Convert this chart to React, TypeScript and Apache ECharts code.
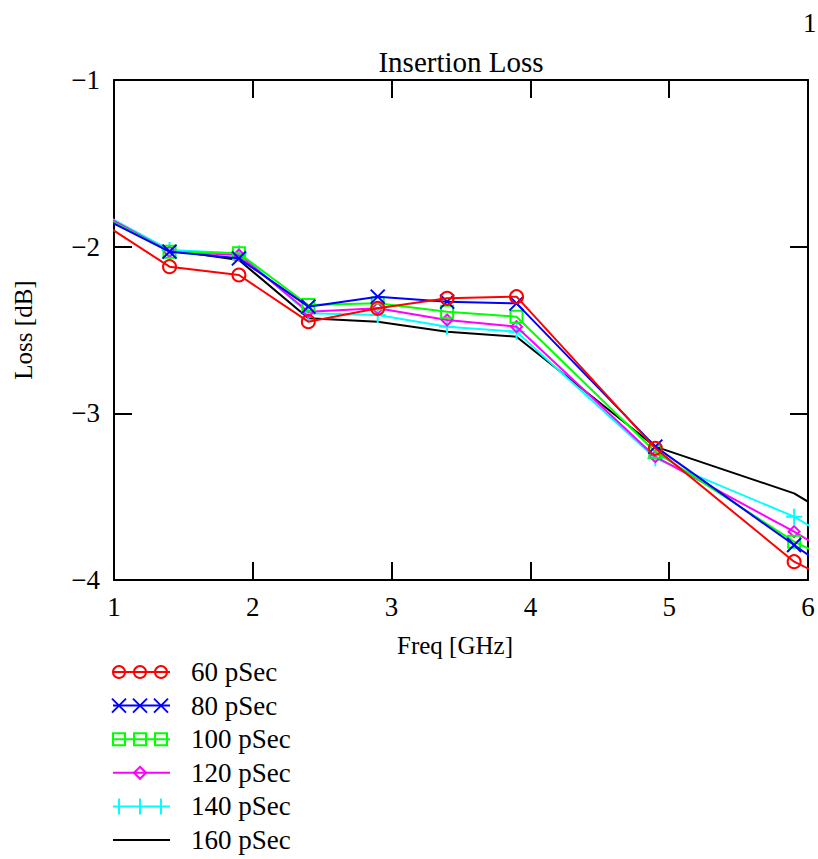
import React, { useEffect, useRef } from "react";
import * as echarts from "echarts";

const freq = [0.9, 1.4, 1.9, 2.4, 2.9, 3.4, 3.9, 4.9, 5.9, 6.9];
const seriesNames = ["60 pSec", "80 pSec", "100 pSec", "120 pSec", "140 pSec", "160 pSec"];
const loss60 = [-1.85, -2.12, -2.17, -2.45, -2.37, -2.31, -2.3, -3.21, -3.89, -4.3];
const loss80 = [-1.82, -2.03, -2.07, -2.36, -2.3, -2.33, -2.34, -3.2, -3.79, -4.38];
const loss100 = [-1.81, -2.03, -2.04, -2.35, -2.34, -2.39, -2.42, -3.23, -3.77, -4.17];
const loss120 = [-1.8, -2.03, -2.05, -2.39, -2.37, -2.44, -2.48, -3.26, -3.71, -4.21];
const loss140 = [-1.795, -2.02, -2.04, -2.4, -2.41, -2.48, -2.51, -3.27, -3.62, -4.12];
const loss160 = [-1.81, -2.02, -2.08, -2.43, -2.45, -2.51, -2.54, -3.2, -3.48, -3.98];
const allLoss = [loss60, loss80, loss100, loss120, loss140, loss160];
const colors = ["#ff0000", "#0000ff", "#00ff00", "#ff00ff", "#00ffff", "#000000"];
const symbols = [
  "circle",
  "path://M0,0L10,10M10,0L0,10",
  "rect",
  "diamond",
  "path://M5,0L5,10M0,5L10,5",
  "none",
];
const symbolSizes = [13, 14, 12, 11, 16, 0];

const FONT = "Liberation Serif";
const FS = 27;

function legendGraphic(i: number, y: number): any[] {
  const c = colors[i];
  const els: any[] = [
    { type: "line", shape: { x1: 113, y1: y, x2: 170, y2: y }, style: { stroke: c, lineWidth: 2 } },
  ];
  const xs3 = [119, 140, 161];
  if (i === 0) {
    xs3.forEach((x) => els.push({ type: "circle", shape: { cx: x, cy: y, r: 6 }, style: { fill: "none", stroke: c, lineWidth: 2 } }));
  } else if (i === 1) {
    xs3.forEach((x) => {
      els.push({ type: "line", shape: { x1: x - 7, y1: y - 7, x2: x + 7, y2: y + 7 }, style: { stroke: c, lineWidth: 2 } });
      els.push({ type: "line", shape: { x1: x - 7, y1: y + 7, x2: x + 7, y2: y - 7 }, style: { stroke: c, lineWidth: 2 } });
    });
  } else if (i === 2) {
    xs3.forEach((x) => els.push({ type: "rect", shape: { x: x - 6, y: y - 6, width: 12, height: 12 }, style: { fill: "none", stroke: c, lineWidth: 2 } }));
  } else if (i === 3) {
    const x = 140;
    els.push({ type: "polygon", shape: { points: [[x, y - 6], [x + 6, y], [x, y + 6], [x - 6, y]] }, style: { fill: "none", stroke: c, lineWidth: 2 } });
  } else if (i === 4) {
    xs3.forEach((x) => els.push({ type: "line", shape: { x1: x, y1: y - 8, x2: x, y2: y + 8 }, style: { stroke: c, lineWidth: 2 } }));
  }
  els.push({
    type: "text",
    x: 191,
    y: y,
    style: { text: seriesNames[i], font: `${FS}px '${FONT}'`, fill: "#000", textVerticalAlign: "middle", verticalAlign: "middle" },
  });
  return els;
}

export default function App() {
  const ref = useRef<HTMLDivElement>(null);
  useEffect(() => {
    document.body.style.margin = "0";
    if (!ref.current) return;
    const chart = echarts.init(ref.current, undefined, { renderer: "svg" });
    const axisText = { color: "#000", fontFamily: FONT, fontSize: FS };
    const legendEls: any[] = [];
    seriesNames.forEach((_, i) => legendEls.push(...legendGraphic(i, 672 + i * 33.6)));
    chart.setOption({
      animation: false,
      backgroundColor: "#fff",
      title: {
        text: "Insertion Loss",
        left: 456,
        top: 42,
        textAlign: "center",
        textStyle: { ...axisText, fontSize: 29, fontWeight: "normal" },
      },
      grid: { left: 114, right: 10, top: 80, bottom: 279 },
      xAxis: [
        {
          type: "value",
          min: 1,
          max: 6,
          interval: 1,
          position: "bottom",
          name: "Freq [GHz]",
          nameLocation: "middle",
          nameGap: 53,
          nameTextStyle: { ...axisText, fontSize: 25, padding: [0, 12, 0, 0] },
          axisLine: { lineStyle: { color: "#000", width: 2 } },
          axisTick: { inside: true, length: 18, lineStyle: { color: "#000", width: 2 } },
          axisLabel: { ...axisText, margin: 13 },
          splitLine: { show: false },
        },
        {
          type: "value",
          min: 1,
          max: 6,
          interval: 1,
          position: "top",
          axisLine: { lineStyle: { color: "#000", width: 2 } },
          axisTick: { inside: true, length: 18, lineStyle: { color: "#000", width: 2 } },
          axisLabel: { show: false },
          splitLine: { show: false },
        },
      ],
      yAxis: [
        {
          type: "value",
          min: -4,
          max: -1,
          interval: 1,
          position: "left",
          name: "Loss [dB]",
          nameLocation: "middle",
          nameGap: 78,
          nameRotate: 90,
          nameTextStyle: { ...axisText, fontSize: 25 },
          axisLine: { lineStyle: { color: "#000", width: 2 } },
          axisTick: { inside: true, length: 18, lineStyle: { color: "#000", width: 2 } },
          axisLabel: { ...axisText, margin: 14, formatter: (v: number) => (v < 0 ? "\u2212" + Math.abs(v) : String(v)) },
          splitLine: { show: false },
        },
        {
          type: "value",
          min: -4,
          max: -1,
          interval: 1,
          position: "right",
          axisLine: { lineStyle: { color: "#000", width: 2 } },
          axisTick: { inside: true, length: 18, lineStyle: { color: "#000", width: 2 } },
          axisLabel: { show: false },
          splitLine: { show: false },
        },
      ],
      series: seriesNames.map((name, i) => ({
        name,
        type: "line",
        xAxisIndex: 0,
        yAxisIndex: 0,
        clip: true,
        data: freq.map((f, j) => [f, allLoss[i][j]]),
        symbol: symbols[i],
        symbolSize: symbolSizes[i],
        showSymbol: symbols[i] !== "none",
        lineStyle: { color: colors[i], width: 2 },
        itemStyle: { color: "rgba(0,0,0,0)", borderColor: colors[i], borderWidth: 2 },
        z: 10 - i,
      })),
      graphic: [
        {
          type: "text",
          x: 803,
          y: 9,
          style: { text: "1", font: `${FS}px '${FONT}'`, fill: "#000" },
        },
        ...legendEls,
      ],
    });
    return () => chart.dispose();
  }, []);
  return <div ref={ref} style={{ width: 818, height: 859 }} />;
}
